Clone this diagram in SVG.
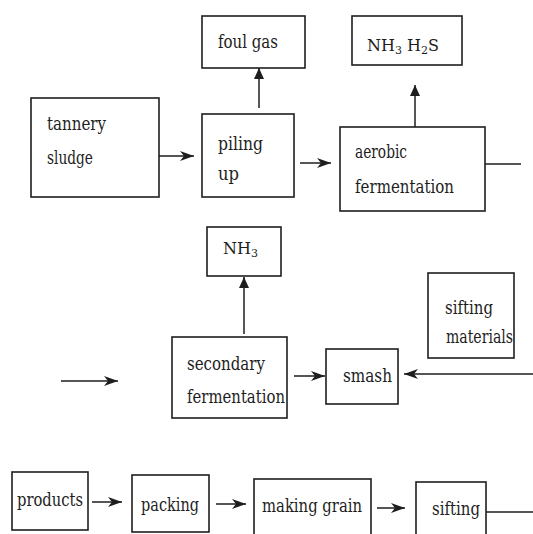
<svg xmlns="http://www.w3.org/2000/svg" width="533" height="534" viewBox="0 0 533 534">
<style>
rect{fill:#fff;stroke:#1e1e1e;stroke-width:1.6}
text{font-family:"DejaVu Serif","Liberation Serif",serif;font-size:18px;fill:#1e1e1e}
.chem{font-size:16px}
.sub{font-size:11px}
#connectors line{stroke:#1e1e1e;stroke-width:1.5;fill:none}
</style>
<defs>
<marker id="barb" markerUnits="userSpaceOnUse" markerWidth="15" markerHeight="11" refX="14" refY="5" orient="auto">
<path d="M0,0 L14,5 L0,10 L4,5 Z" fill="#1e1e1e"/>
</marker>
<marker id="tri" markerUnits="userSpaceOnUse" markerWidth="12" markerHeight="11" refX="11" refY="5" orient="auto">
<path d="M0,0 L11,5 L0,10 Z" fill="#1e1e1e"/>
</marker>
</defs>
<rect x="0" y="0" width="533" height="534" style="fill:#fff;stroke:none"/>
<g id="connectors">
<line x1="159" y1="156" x2="194" y2="156" marker-end="url(#barb)"/>
<line x1="259" y1="108" x2="259" y2="68" marker-end="url(#tri)"/>
<line x1="300" y1="163" x2="331" y2="163" marker-end="url(#barb)"/>
<line x1="415" y1="127" x2="415" y2="85" marker-end="url(#tri)"/>
<line x1="485" y1="164" x2="521" y2="164"/>
<line x1="61" y1="381" x2="118" y2="381" marker-end="url(#barb)"/>
<line x1="244" y1="334" x2="244" y2="277" marker-end="url(#tri)"/>
<line x1="294" y1="376" x2="325" y2="376" marker-end="url(#barb)"/>
<line x1="533" y1="374" x2="404" y2="374" marker-end="url(#barb)"/>
<line x1="92" y1="502" x2="122" y2="502" marker-end="url(#barb)"/>
<line x1="216" y1="504" x2="246" y2="504" marker-end="url(#barb)"/>
<line x1="377" y1="508" x2="405" y2="508" marker-end="url(#barb)"/>
<line x1="486" y1="512" x2="533" y2="512"/>
</g>
<g id="tannery-sludge">
<rect x="31" y="98" width="128" height="99"/>
<text x="47" y="130" textLength="59" lengthAdjust="spacingAndGlyphs">tannery</text>
<text x="47" y="164" textLength="46" lengthAdjust="spacingAndGlyphs">sludge</text>
</g>
<g id="piling-up">
<rect x="202" y="114" width="92" height="83"/>
<text x="218" y="150" textLength="45" lengthAdjust="spacingAndGlyphs">piling</text>
<text x="218" y="180" textLength="21" lengthAdjust="spacingAndGlyphs">up</text>
</g>
<g id="foul-gas">
<rect x="202" y="16" width="103" height="52"/>
<text x="218" y="48" textLength="60" lengthAdjust="spacingAndGlyphs">foul gas</text>
</g>
<g id="aerobic-fermentation">
<rect x="340" y="127" width="145" height="84"/>
<text x="355" y="158" textLength="52" lengthAdjust="spacingAndGlyphs">aerobic</text>
<text x="355" y="193" textLength="99" lengthAdjust="spacingAndGlyphs">fermentation</text>
</g>
<g id="nh3-h2s">
<rect x="352" y="16" width="110" height="49"/>
<text class="chem" x="367" y="51">NH<tspan class="sub" dy="3">3</tspan><tspan dy="-3"> H</tspan><tspan class="sub" dy="3">2</tspan><tspan dy="-3">S</tspan></text>
</g>
<g id="nh3">
<rect x="207" y="227" width="74" height="49"/>
<text class="chem" x="223" y="254">NH<tspan class="sub" dy="3">3</tspan></text>
</g>
<g id="secondary-fermentation">
<rect x="172" y="337" width="115" height="81"/>
<text x="187" y="370" textLength="78" lengthAdjust="spacingAndGlyphs">secondary</text>
<text x="187" y="403" textLength="98" lengthAdjust="spacingAndGlyphs">fermentation</text>
</g>
<g id="smash">
<rect x="326" y="349" width="72" height="55"/>
<text x="343" y="382" textLength="49" lengthAdjust="spacingAndGlyphs">smash</text>
</g>
<g id="sifting-materials">
<rect x="428" y="273" width="86" height="85"/>
<text x="445" y="314" textLength="48" lengthAdjust="spacingAndGlyphs">sifting</text>
<text x="446" y="343" textLength="67" lengthAdjust="spacingAndGlyphs">materials</text>
</g>
<g id="products">
<rect x="12" y="472" width="76" height="58"/>
<text x="17" y="506" textLength="66" lengthAdjust="spacingAndGlyphs">products</text>
</g>
<g id="packing">
<rect x="132" y="475" width="77" height="57"/>
<text x="141" y="511" textLength="58" lengthAdjust="spacingAndGlyphs">packing</text>
</g>
<g id="making-grain">
<rect x="254" y="479" width="117" height="62"/>
<text x="262" y="512" textLength="100" lengthAdjust="spacingAndGlyphs">making grain</text>
</g>
<g id="sifting">
<rect x="416" y="482" width="70" height="62"/>
<text x="432" y="515" textLength="48" lengthAdjust="spacingAndGlyphs">sifting</text>
</g>
</svg>
